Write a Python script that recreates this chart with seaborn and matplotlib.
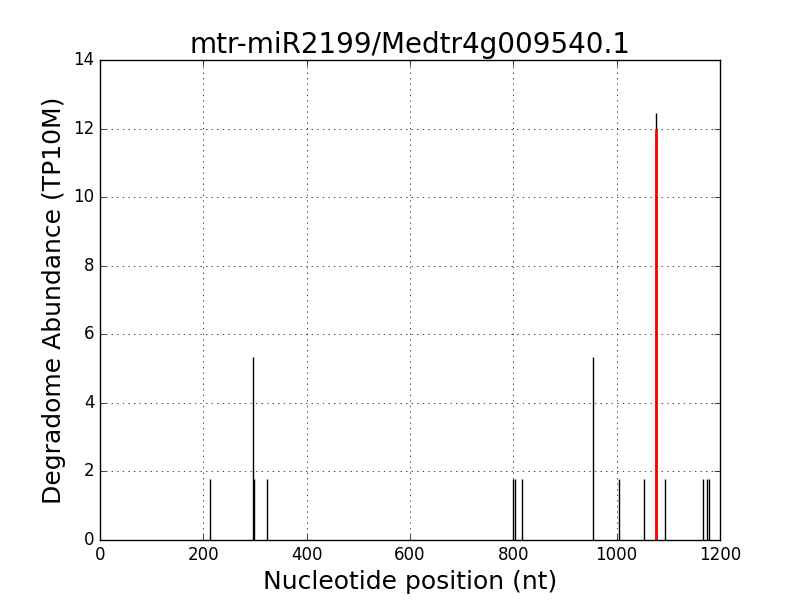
import matplotlib
matplotlib.use("Agg")
import matplotlib.pyplot as plt
import seaborn as sns
import pandas as pd

# degradome tags: position (nt) and abundance (TP10M)
positions = [213, 297, 298, 324, 800, 804, 817, 955, 1004, 1053, 1076, 1094, 1168, 1175, 1178]
abundance = [1.777, 5.33, 1.777, 1.777, 1.777, 1.777, 1.777, 5.33, 1.777, 1.777, 12.44,
             1.777, 1.777, 1.777, 1.777]

# predicted cleavage site
site_pos = 1076
site_abund = 12.0

df = pd.DataFrame({"pos": positions, "abund": abundance})

sns.set_style("white")
plt.style.use("classic")

fig, ax = plt.subplots(figsize=(8, 6), dpi=100)
ax.vlines(df["pos"], 0, df["abund"], color="black", linewidth=1)
ax.vlines([site_pos], 0, [site_abund], color="red", linewidth=2)

ax.set_xlim(0, 1200)
ax.set_ylim(0, 14)
ax.grid(True)
ax.set_title("mtr-miR2199/Medtr4g009540.1", fontsize=20)
ax.set_xlabel("Nucleotide position (nt)", fontsize=18)
ax.set_ylabel("Degradome Abundance (TP10M)", fontsize=18)

fig.savefig("out.png", dpi=100)
